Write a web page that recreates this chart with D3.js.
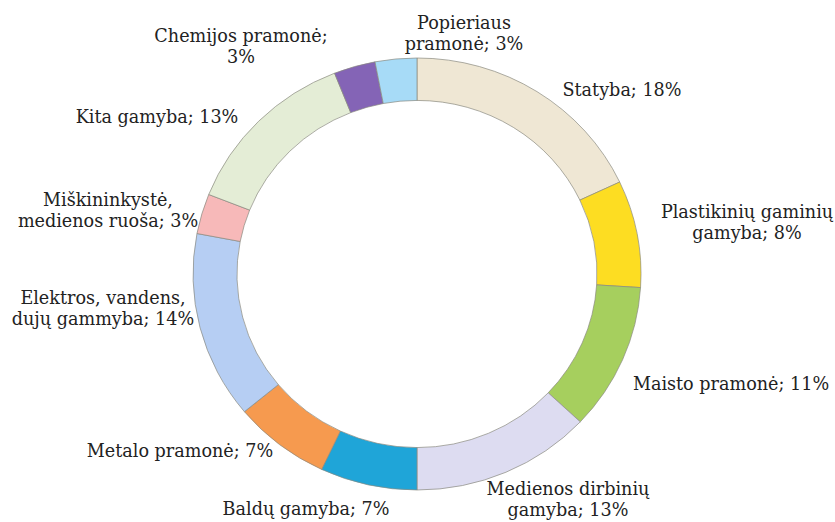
<!DOCTYPE html>
<html>
<head>
<meta charset="utf-8">
<script src="https://cdn.jsdelivr.net/npm/d3@7"></script>
<style>
  body { margin: 0; background: #fff; }
  text { font-family: "DejaVu Serif", serif; font-size: 17.6px; fill: #222; }
</style>
</head>
<body>
<div id="chart"></div>
<script>
// sectors, clockwise from 12 o'clock
var categories = ["Statyba", "Plastikinių gaminių gamyba", "Maisto pramonė",
  "Medienos dirbinių gamyba", "Baldų gamyba", "Metalo pramonė",
  "Elektros, vandens, dujų gammyba", "Miškininkystė, medienos ruoša",
  "Kita gamyba", "Chemijos pramonė", "Popieriaus pramonė"];
var values = [18, 8, 11, 13, 7, 7, 14, 3, 13, 3, 3];

// how many words go on the first label line (0 = one line)
var firstLineWords = [0, 2, 0, 2, 0, 0, 2, 1, 0, 2, 1];

var colors = ["#efe7d4", "#fddd22", "#a6cf5e", "#dddcf1", "#1fa5d8", "#f69a4f",
  "#b6cef3", "#f7b9b9", "#e4edd6", "#8464b6", "#a7dbf7"];

// label centres (hand placed like the original)
var labelPos = [[622, 90], [747, 222], [731, 384], [568, 499], [306, 509],
  [180, 451], [103, 308], [108, 210], [157, 117], [241, 46], [464, 33]];

var W = 835, H = 522;
var cx = 417, cy = 274, rOut = 224, rIn = 180;

var svg = d3.select("#chart").append("svg")
  .attr("width", W)
  .attr("height", H);

var pie = d3.pie().sort(null).value(function(d) { return d; });
var arc = d3.arc().innerRadius(rIn).outerRadius(rOut);

// ring is a bit squashed vertically in the scan
var ring = svg.append("g")
  .attr("transform", "translate(" + cx + "," + cy + ") scale(1," + (216 / 224) + ")");

ring.selectAll("path")
  .data(pie(values))
  .join("path")
    .attr("d", arc)
    .attr("fill", function(d, i) { return colors[i]; })
    .attr("stroke", "#8a8a80")
    .attr("stroke-width", 0.7)
    .attr("vector-effect", "non-scaling-stroke");

// labels
var labels = svg.append("g");
categories.forEach(function(name, i) {
  var words = (name + "; " + values[i] + "%").split(" ");
  var lines = firstLineWords[i] > 0
    ? [words.slice(0, firstLineWords[i]).join(" "), words.slice(firstLineWords[i]).join(" ")]
    : [words.join(" ")];
  var t = labels.append("text")
    .attr("text-anchor", "middle")
    .attr("x", labelPos[i][0])
    .attr("y", labelPos[i][1] - (lines.length - 1) * 10.5);
  lines.forEach(function(l, j) {
    t.append("tspan")
      .attr("x", labelPos[i][0])
      .attr("dy", j == 0 ? "0.35em" : 21)
      .text(l);
  });
});
</script>
</body>
</html>
